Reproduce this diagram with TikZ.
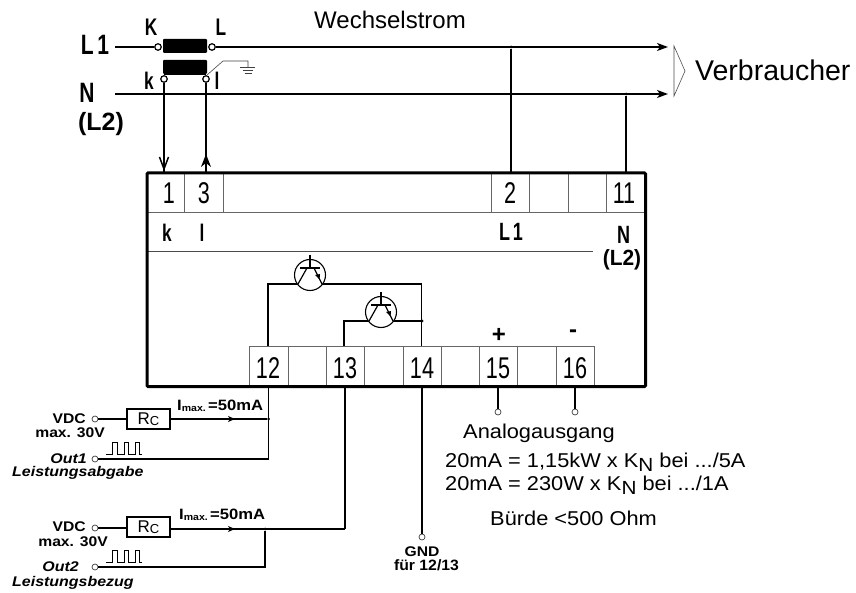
\documentclass[tikz,border=0pt]{standalone}
\usepackage{fontspec}
\setmainfont{Liberation Sans}
\usetikzlibrary{arrows.meta}
\newcommand{\fsz}[1]{\fontsize{#1}{#1}\selectfont}
\newcommand{\imx}{\fsz{15}I\raisebox{-1.5pt}{\fsz{9.5}max.}\hspace{2pt}=50mA}
\newcommand{\rcs}{\fsz{17}R\raisebox{-1.5pt}{\fsz{13}C}}
\newcommand{\kn}{K\raisebox{-4.5pt}{\fsz{19}N}}
\tikzset{
  x=1pt,y=-1pt,
  wire/.style={line width=1.6pt},
  wirethin/.style={line width=1.2pt},
  cellline/.style={line width=0.8pt,draw=black!60},
  term/.style={circle,draw=black!75,fill=white,line width=.7pt,inner sep=0pt,minimum size=6pt},
  bigterm/.style={circle,draw,fill=white,line width=1.2pt,inner sep=0pt,minimum size=6.5pt},
  jn/.style={circle,fill=black,inner sep=0pt,minimum size=3pt},
  num/.style={font=\fsz{30},inner sep=0pt,xscale=.72},
  lab/.style={font=\bfseries\fsz{24},inner sep=0pt,xscale=.72},
  biglab/.style={font=\bfseries\fsz{28},inner sep=0pt,xscale=.75},
  small/.style={font=\bfseries\fsz{14},inner sep=0pt,xscale=1.12},
  smallit/.style={font=\bfseries\itshape\fsz{14},inner sep=0pt,xscale=1.14},
  txt/.style={font=\fsz{20},inner sep=0pt,anchor=base west,xscale=1.09},
  rc/.style={draw,line width=1.5pt,fill=white,minimum width=43pt,minimum height=20pt,inner sep=0pt},
  coil/.style={fill=black,rounded corners=1pt,minimum width=44pt,minimum height=14pt,inner sep=0pt},
  flow/.style={-{Stealth[length=11pt,width=8pt,inset=3pt]},line width=1.6pt},
  tipflow/.style={-{Stealth[length=7pt,width=6pt,inset=2pt]},line width=1.2pt},
}
\newcommand{\tr}[1]{%
  \begin{scope}[shift={(#1)}]
    \draw[line width=1.1pt,fill=white] (0,0) circle (15.5);
    \draw[line width=1.3pt] (0,-20)--(0,-7);
    \draw[line width=1.3pt] (-10,-7)--(10,-7);
    \draw[line width=1.2pt] (-3,-7)--(-12,9);
    \draw[line width=1.2pt] (4,-7)--(12,9);
    \fill (9.5,4.5)--(5,0)--(10,-1)--cycle;
  \end{scope}}
\begin{document}
\begin{tikzpicture}
\useasboundingbox (0,0) rectangle (856,593);
% mains
\coordinate (l1s) at (115,47); \coordinate (l1e) at (668,47);
\coordinate (ns) at (115,94); \coordinate (ne) at (668,94);
\node[coil] (ct1) at (185,46) {};
\node[coil] (ct2) at (185,67) {};
\node[bigterm] (K) at (158,47) {};
\node[bigterm] (L) at (212,47) {};
\draw[wire] (l1s)--(K);
\draw[flow] (L)--(l1e);
\draw[flow] (ns)--(ne);
\draw[wire] (164,74)--(206,74);
\node[jn] (j2) at (511,47) {};
\node[jn] (j11) at (626,94) {};
% box
\coordinate (boxtl) at (147,173); \coordinate (boxbr) at (645.5,386.5);
\draw[cellline] (147,212)--(645,212);
\foreach \x in {184,223,491,529,568,606} \draw[cellline] (\x,173)--(\x,212);
\draw[line width=.7pt,draw=black!70] (147,251)--(593,251);
\draw[cellline] (249,346)--(594,346);
\foreach \x in {249,288,326,364,403,441.5,479,517.5,556,594} \draw[cellline] (\x,346)--(\x,386);
\draw[line width=3pt,rounded corners=1pt] (boxtl) rectangle (boxbr);
% current transformer leads
\node[bigterm] (k) at (164,79) {};
\node[bigterm] (l) at (206,79) {};
\draw[line width=1.5pt] (k)--(164,173);
\draw[line width=1.5pt] (206,173)--(l);
\draw[line width=1.5pt] (159.5,157)--(164,169)--(168.5,157);
\fill (206,154)--(201,167)--(206,163)--(211,167)--cycle;
% ground
\draw[line width=.6pt,draw=black!75] (207,75)--(223,61)--(248,61)--(248,67);
\draw[line width=.8pt,draw=black!75] (240,67)--(255,67) (243,70)--(253,70) (244.5,73)--(251.5,73);
% verticals
\draw[wire] (j2)--(511,173);
\draw[wire] (j11)--(626,173);
% consumer
\draw[line width=.6pt,draw=black!70] (674,46)--(685,71)--(674,96)--cycle;
% transistors
\draw[wire] (268,346)--(268,284)--(421.5,284)--(421.5,346);
\draw[wire] (344,346)--(344,321)--(421.5,321);
\node[jn] at (422,321) {};
\tr{310,275}
\tr{381,312}
% texts
\node[font=\fsz{24},inner sep=0pt,anchor=base west] (wech) at (314,29) {Wechselstrom};
\node[font=\fsz{28.5},inner sep=0pt,anchor=base west] (verb) at (695,81) {Verbraucher};
\node[biglab] (tL1) at (95,45) {L\,1};
\node[biglab] (tN) at (87,93) {N};
\node[biglab,font=\bfseries\fsz{25},xscale=1.33] (tL2) at (101,124) {(L2)};
\node[lab] (tK) at (151,27) {K};
\node[lab] (tL) at (221,27) {L};
\node[lab] (tk) at (149,81) {k};
\node[lab] (tl) at (217,81) {l};
\node[num] (n1) at (169,193) {1};
\node[num] (n3) at (204,193) {3};
\node[num] (n2) at (510,193) {2};
\node[num] (n11) at (624,193) {11};
\node[lab] (b1) at (167,233) {k};
\node[lab] (b2) at (202,233) {l};
\node[lab,font=\bfseries\fsz{25}] (b3) at (511,232) {L\,1};
\node[lab,font=\bfseries\fsz{25}] (b4) at (623.5,234.5) {N};
\node[lab,font=\bfseries\fsz{22},xscale=1.32] (b5) at (622,259.5) {(L2)};
\node[num] (n12) at (268,368.5) {12};
\node[num] (n13) at (345,368.5) {13};
\node[num] (n14) at (422,368.5) {14};
\node[num] (n15) at (498,368.5) {15};
\node[num] (n16) at (575,368.5) {16};
\node[font=\bfseries\fsz{24},inner sep=0pt] (plus) at (499,335) {+};
\node[font=\bfseries\fsz{24},inner sep=0pt] (minus) at (573,334) {-};
% outputs bottom
\node[term] (a15) at (498,412) {};
\node[term] (a16) at (575,412) {};
\draw[wire] (498,386)--(a15);
\draw[wire] (575,386)--(a16);
\node[term] (gnd) at (422,537) {};
\draw[wire] (422,386)--(gnd);
\node[small] (g1) at (422,552) {GND};
\node[small,font=\bfseries\fsz{15},xscale=.94] (g2) at (426.5,565) {für 12/13};
% analog text
\node[txt] (t1) at (463,438) {Analogausgang};
\node[txt] (t2) at (445,467) {20mA = 1,15kW x \kn{} bei .../5A};
\node[txt] (t3) at (445,490) {20mA = 230W x \kn{} bei .../1A};
\node[txt] (t4) at (490,525) {Bürde <500 Ohm};
% Out1
\node[term] (v1) at (95,419) {};
\node[rc] (r1) at (148.5,419) {\rcs};
\node[term] (o1) at (95,459) {};
\draw[wirethin] (v1)--(r1);
\node[jn] (j1) at (268.5,419) {};
\draw[wirethin] (r1)--(j1);
\draw[tipflow] (r1.east)--(235,419);
\draw[line width=1.5pt] (268.5,386)--(268.5,459)--(o1);
\draw[line width=.8pt] (106,454)--(112,454)--(112,442)--(117,442)--(117,454)--(124,454)--(124,442)--(128,442)--(128,454)--(135,454)--(135,442)--(139,442)--(139,454)--(142,454);
\node[small,anchor=east] (tv1) at (86,419) {VDC};
\node[small,anchor=east] (tm1) at (105,433) {max. 30V};
\node[smallit,anchor=east] (to1) at (87,459) {Out1};
\node[smallit,anchor=west] (tl1) at (12,473) {Leistungsabgabe};
\node[small,anchor=west,xscale=.99] (im1) at (177,406) {\imx};
% Out2
\node[term] (v2) at (95,528) {};
\node[rc] (r2) at (148.5,527) {\rcs};
\node[term] (o2) at (95,567) {};
\draw[wirethin] (v2)--(r2.west|-v2);
\node[jn] (j3) at (265,529) {};
\draw[wirethin] (r2.east|-j3)--(345,529);
\draw[line width=1.5pt] (345,529)--(345,386);
\draw[tipflow] (r2.east|-j3)--(235,529);
\draw[line width=1.5pt] (j3)--(265,567)--(o2);
\draw[line width=.8pt] (106,562)--(112,562)--(112,550)--(117,550)--(117,562)--(124,562)--(124,550)--(128,550)--(128,562)--(135,562)--(135,550)--(139,550)--(139,562)--(142,562);
\node[small,anchor=east] (tv2) at (86,527) {VDC};
\node[small,anchor=east] (tm2) at (108,542) {max. 30V};
\node[smallit,anchor=east] (to2) at (79,567) {Out2};
\node[smallit,anchor=west] (tl2) at (12,583) {Leistungsbezug};
\node[small,anchor=west,xscale=.99] (im2) at (179,515) {\imx};
\end{tikzpicture}
\end{document}
